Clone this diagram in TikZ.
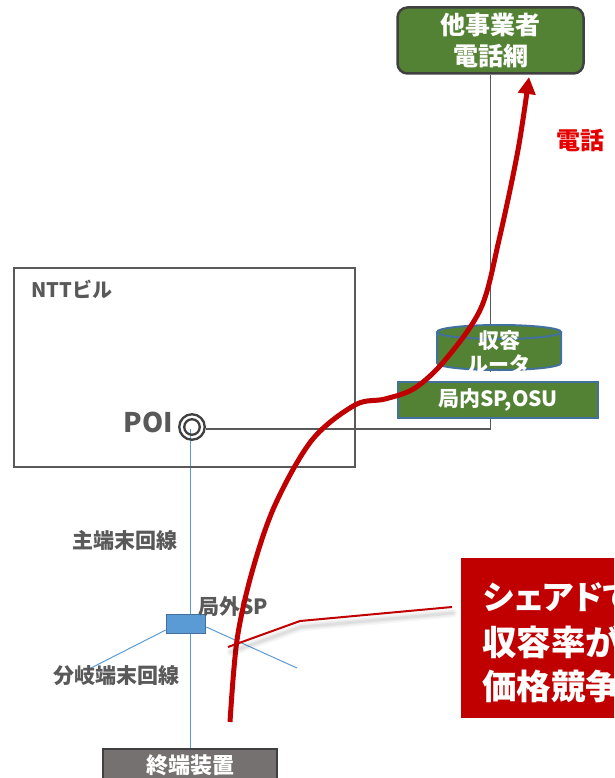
\documentclass[tikz,border=0pt]{standalone}
\usepackage{fontspec}
\setmainfont{Noto Sans CJK JP}
\usetikzlibrary{arrows.meta,backgrounds}
\definecolor{grn}{HTML}{548235}
\definecolor{dblue}{HTML}{41719C}
\definecolor{lblue}{HTML}{5B9BD5}
\definecolor{dred}{HTML}{C00000}
\definecolor{bred}{HTML}{E60000}
\definecolor{tgray}{HTML}{595959}
\definecolor{dgray}{HTML}{404040}
\definecolor{bgray}{HTML}{767171}
\begin{document}
\begin{tikzpicture}[x=1pt,y=-1pt,
  lbl/.style={font=\bfseries\fontsize{21}{24}\selectfont, text=tgray, inner sep=0},
  wlbl/.style={font=\bfseries\fontsize{21}{24}\selectfont, text=white, inner sep=0, align=center},
  gline/.style={draw=tgray, line width=1.3pt},
  bline/.style={draw=lblue, line width=1pt},
  greenbox/.style={draw=dblue, fill=grn, line width=2pt, inner sep=0},
  calltxt/.style={font=\bfseries\fontsize{34.5}{45}\selectfont\addfontfeatures{RawFeature=+palt}, text=white, anchor=base west, inner sep=0},
  redline/.style={draw=dred, line width=5pt},
  ring/.style={circle, draw=dgray, line width=2.3pt, inner sep=0}]
\useasboundingbox (0,0) rectangle (614,778);
\clip (0,0) rectangle (614,778);

% top network box
\node[draw=dgray, fill=grn, line width=2.5pt, rounded corners=10pt,
      minimum width=186pt, minimum height=66pt, inner sep=0,
      font=\bfseries\fontsize{25}{31}\selectfont, text=white, align=center]
      (net) at (490.5,40.5) {他事業者\\電話網};

% NTT building
\node[draw=tgray, line width=2pt, minimum width=341pt, minimum height=199pt, inner sep=0]
      (ntt) at (184.5,367.5) {};
\node[lbl, anchor=base west, font=\bfseries\fontsize{20}{24}\selectfont] (nttlbl) at (31,297) {NTTビル};

% POI
\node[ring, minimum size=25.5pt] (poi) at (192,427) {};
\node[ring, minimum size=15.5pt] (poiin) at (192,427) {};
\node[lbl, anchor=base east, font=\bfseries\fontsize{27}{30}\selectfont] (poilbl) at (173,432) {POI};
\coordinate (poiline) at (192,429);
\coordinate (poiblue) at (190,429);

% router cylinder
\coordinate (rtr) at (499,347.5);
\fill[grn] (437,332) rectangle (561,363);
\fill[grn] (499,363) ellipse [x radius=62, y radius=7];
\draw[draw=dblue, line width=2pt] (437,332) -- (437,363) arc[start angle=180, end angle=0, x radius=62, y radius=7] -- (561,332);
\draw[draw=dblue, fill=grn, line width=2pt] (499,332) ellipse [x radius=62, y radius=7];
\node[wlbl] (rtrlbl) at (499,352) {収容\\ルータ};
\fill[white] (430,371.5) rectangle (570,381);

% OSU box
\node[greenbox, minimum width=200pt, minimum height=36pt,
      font=\bfseries\fontsize{21}{24}\selectfont, text=white] (osu) at (498,400) {局内SP,OSU};

% outside splitter
\node[draw=dblue, fill=lblue, line width=1.5pt, minimum width=39pt, minimum height=19pt, inner sep=0]
      (sp) at (186,624) {};
\node[lbl] (splbl) at (233.5,607) {局外SP};
\coordinate (brl) at (87,670);
\coordinate (brr) at (297,668);

% terminal
\node[draw=dgray, fill=bgray, line width=2pt, minimum width=174pt, minimum height=44pt, inner sep=0,
      anchor=north] (term) at (190,748) {};
\node[wlbl, font=\bfseries\fontsize{22}{24}\selectfont] (termlbl) at (190.5,765) {終端装置};

\node[lbl] (mainlbl) at (124.5,540) {主端末回線};
\node[lbl] (brlbl) at (116.5,676) {分岐端末回線};

% connectors (behind)
\begin{scope}[on background layer]
  \draw[gline] (net.south) -- (net.south |- poiline) -- (poi.east |- poiline);
  \draw[bline] (poiblue) -- (poiblue |- term.north);
  \draw[bline] (sp.west) ++(0,6) -- (brl);
  \draw[bline] (sp.east) ++(0,3) -- (brr);
\end{scope}

% phone label
\node[font=\bfseries\fontsize{24}{26}\selectfont, text=bred, inner sep=0] (tel) at (580.5,140) {電話};

% red call path
\draw[redline, -{Triangle[length=17pt,width=17pt]}] plot[smooth, tension=0.55] coordinates
  {(230,722) (237,640) (252,572) (275,505) (312,440) (355,405) (385,399) (415,388) (446,359) (481,308) (499,240) (518,150) (529,77)};

% callout
\node[fill=dred, minimum width=200pt, minimum height=160pt, inner sep=0, anchor=north west]
      (call) at (461,558) {};
\node[calltxt, font=\bfseries\fontsize{33}{45}\selectfont\addfontfeatures{RawFeature=+palt}] (c1) at (483,609) {シェアドで};
\node[calltxt] (c2) at (482,655) {収容率が};
\node[calltxt] (c3) at (482,699) {価格競争};
\coordinate (p0) at (452,607);
\coordinate (p1) at (300,621);
\coordinate (p2) at (228,647);
\foreach \w/\o in {9/0.03,6/0.04,3/0.06}
  \draw[black, opacity=\o, line width=\w pt, line join=round, line cap=round] ([shift={(1,6)}]p0) -- ([shift={(1,6)}]p1) -- ([shift={(3,5)}]p2);
\draw[dred, line width=2pt, line join=round] (p0) -- (p1) -- (p2);
\end{tikzpicture}
\end{document}
